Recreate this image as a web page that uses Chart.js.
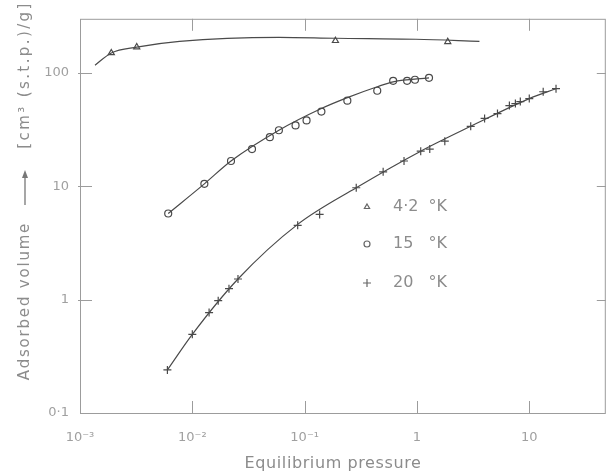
<!DOCTYPE html>
<html lang="en">
<head>
  <meta charset="UTF-8" />
  <title>Adsorption isotherms</title>
  <script src="https://cdn.jsdelivr.net/npm/chart.js"></script>
  <style>
    body { margin: 0; background: #fff; }
    .wrap { width: 611px; height: 473px; position: relative; }
  </style>
</head>
<body>
<div class="wrap"><canvas id="isoChart"></canvas></div>

<script>
  // measured points (pressure, adsorbed volume)
  const pressure42 = [0.0019, 0.0032, 0.188, 1.88];
  const volume42 = [150, 169, 192, 188];
  const pressure15 = [0.0061, 0.0128, 0.0221, 0.034, 0.049, 0.059, 0.083, 0.104, 0.141, 0.24, 0.443, 0.614, 0.817, 0.96, 1.28];
  const volume15 = [5.75, 10.5, 16.7, 21.3, 27.1, 31.2, 34.4, 38.1, 45.6, 56.9, 69.6, 85.2, 85.2, 87, 90.4];
  const pressure20 = [0.006, 0.01, 0.0141, 0.017, 0.0212, 0.0255, 0.0867, 0.136, 0.288, 0.5, 0.767, 1.08, 1.3, 1.77, 3.01, 4.0, 5.21, 6.65, 7.52, 8.32, 10, 13.3, 17.3];
  const volume20 = [0.24, 0.494, 0.769, 0.98, 1.25, 1.52, 4.52, 5.64, 9.7, 13.4, 16.7, 20.4, 21.3, 25.0, 33.8, 39.7, 43.8, 51.5, 53.6, 55.8, 59.3, 68.2, 72.5];

  // smooth curves drawn through the data
  const curve42P = [0.00136, 0.0019, 0.0032, 0.0077, 0.059, 0.188, 0.98, 3.6];
  const curve42V = [117, 150, 169, 190, 206, 202, 198, 190];
  const curve15P = [0.0061, 0.0128, 0.0221, 0.059, 0.141, 0.24, 0.443, 0.614, 1.28];
  const curve15V = [5.75, 10.5, 16.7, 31.2, 48.5, 60.5, 75.5, 83.4, 90.4];
  const curve20P = [0.006, 0.01, 0.0255, 0.0867, 0.288, 1.08, 3.01, 10, 17.3];
  const curve20V = [0.24, 0.494, 1.52, 4.61, 9.7, 20.4, 33.8, 59.3, 72.5];

  const xTickValues = [0.001, 0.01, 0.1, 1, 10];
  const xTickLabels = ['10\u207B\u00B3', '10\u207B\u00B2', '10\u207B\u00B9', '1', '10'];
  const yTickValues = [0.1, 1, 10, 100];
  const yTickLabels = ['0\u00B71', '1', '10', '100'];

  const seriesNames = ['4\u00B72  \u00B0K', '15   \u00B0K', '20   \u00B0K'];
  const seriesStyles = ['triangle', 'circle', 'cross'];

  const ink = '#4a4a4a';
  const textGrey = '#8c8c8c';
  const fontFamily = "'DejaVu Sans', sans-serif";

  const pts = (xs, ys) => xs.map((x, i) => ({ x: x, y: ys[i] }));

  const curveSet = (xs, ys) => ({
    data: pts(xs, ys),
    showLine: true,
    borderColor: ink,
    borderWidth: 1.2,
    pointRadius: 0,
    cubicInterpolationMode: 'monotone'
  });

  const markerSet = (xs, ys, style) => ({
    data: pts(xs, ys),
    showLine: false,
    pointStyle: style,
    pointRadius: style === 'cross' ? 4 : 3.5,
    pointBorderWidth: 1.2,
    pointBackgroundColor: '#fff',
    pointBorderColor: ink
  });

  // frame, inward ticks, legend and axis titles
  const decorations = {
    id: 'decorations',
    afterDraw(chart) {
      const ctx = chart.ctx;
      const { left, right, top, bottom } = chart.chartArea;
      const xs = chart.scales.x, ys = chart.scales.y;
      ctx.save();
      ctx.strokeStyle = '#9c9c9c';
      ctx.lineWidth = 1;
      ctx.strokeRect(left + 0.5, top + 0.5, right - left - 1, bottom - top);
      ctx.beginPath();
      xTickValues.slice(1).forEach(v => {
        const px = Math.round(xs.getPixelForValue(v)) + 0.5;
        ctx.moveTo(px, bottom); ctx.lineTo(px, bottom - 12);
        ctx.moveTo(px, top); ctx.lineTo(px, top + 12);
      });
      yTickValues.slice(1).forEach(v => {
        const py = Math.round(ys.getPixelForValue(v)) + 0.5;
        ctx.moveTo(left - 2, py); ctx.lineTo(left + 12, py);
        ctx.moveTo(right, py); ctx.lineTo(right - 9, py);
      });
      ctx.stroke();

      // legend inside plot
      const rows = [207, 244, 283];
      ctx.font = '16px ' + fontFamily;
      ctx.textBaseline = 'middle';
      rows.forEach((y, i) => {
        ctx.strokeStyle = '#666';
        ctx.lineWidth = 1.2;
        ctx.fillStyle = '#fff';
        Chart.helpers.drawPoint(ctx, {
          pointStyle: seriesStyles[i],
          radius: seriesStyles[i] === 'cross' ? 4 : 3,
          borderWidth: 1.2
        }, 367, y);
        ctx.fillStyle = textGrey;
        ctx.fillText(seriesNames[i], 393, y);
      });

      // x title
      ctx.fillStyle = textGrey;
      ctx.textAlign = 'center';
      ctx.font = '16px ' + fontFamily;
      ctx.letterSpacing = '0.6px';
      ctx.fillText('Equilibrium pressure', 333, 464);

      // y title, rotated
      ctx.translate(25, 0);
      ctx.rotate(-Math.PI / 2);
      ctx.font = '15px ' + fontFamily;
      ctx.letterSpacing = '1.8px';
      ctx.fillText('Adsorbed volume', -301, 0);
      ctx.letterSpacing = '2.4px';
      ctx.fillText('[cm\u00B3 (s.t.p.)/g]', -75, 0);
      ctx.strokeStyle = '#777';
      ctx.lineWidth = 1.3;
      ctx.beginPath();
      ctx.moveTo(-205, 0); ctx.lineTo(-176, 0);
      ctx.stroke();
      ctx.fillStyle = '#777';
      ctx.beginPath();
      ctx.moveTo(-170, 0); ctx.lineTo(-178, -3); ctx.lineTo(-178, 3);
      ctx.closePath();
      ctx.fill();
      ctx.restore();
    }
  };

  new Chart(document.getElementById('isoChart'), {
    type: 'scatter',
    data: {
      datasets: [
        curveSet(curve42P, curve42V),
        curveSet(curve15P, curve15V),
        curveSet(curve20P, curve20V),
        markerSet(pressure42, volume42, 'triangle'),
        markerSet(pressure15, volume15, 'circle'),
        markerSet(pressure20, volume20, 'cross')
      ]
    },
    options: {
      responsive: true,
      maintainAspectRatio: false,
      animation: false,
      layout: { padding: { top: 16, right: 3, left: 0, bottom: 0 } },
      plugins: { legend: { display: false }, tooltip: { enabled: false } },
      scales: {
        x: {
          type: 'logarithmic',
          min: 0.001,
          max: 48,
          afterBuildTicks: s => { s.ticks = xTickValues.map(v => ({ value: v })); },
          afterFit: s => { s.height = 60; },
          grid: { display: false, drawTicks: false },
          border: { display: false },
          ticks: {
            autoSkip: false,
            maxRotation: 0,
            padding: 17,
            color: '#a0a0a0',
            font: { family: fontFamily, size: 13 },
            callback: v => xTickLabels[xTickValues.indexOf(v)]
          }
        },
        y: {
          type: 'logarithmic',
          min: 0.1,
          max: 300,
          afterBuildTicks: s => { s.ticks = yTickValues.map(v => ({ value: v })); },
          afterFit: s => { s.width = 80; },
          grid: { display: false, drawTicks: false },
          border: { display: false },
          ticks: {
            autoSkip: false,
            padding: 11,
            color: '#a0a0a0',
            font: { family: fontFamily, size: 13 },
            callback: v => yTickLabels[yTickValues.indexOf(v)]
          }
        }
      }
    },
    plugins: [decorations]
  });
</script>
</body>
</html>
